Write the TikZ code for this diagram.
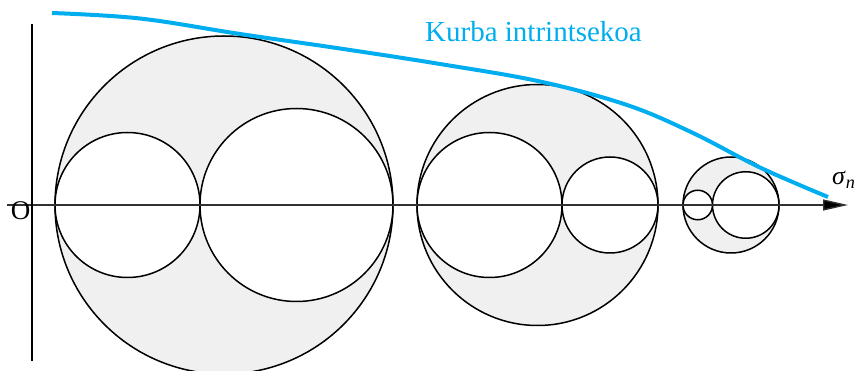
\documentclass[tikz,border=0pt]{standalone}
\usepackage{fontspec}
\setmainfont{Liberation Serif}
\usetikzlibrary{arrows.meta}
\definecolor{curveblue}{RGB}{0,174,239}
\definecolor{mohrfill}{RGB}{240,240,240}
\definecolor{axisgray}{RGB}{50,50,50}
\tikzset{
  outercirc/.style={draw=black, line width=1.5pt, fill=mohrfill},
  innercirc/.style={draw=black, line width=1.5pt, fill=white},
  axisline/.style={draw=axisgray, line width=1.4pt},
  lbl/.style={inner sep=0pt, font=\fontsize{27pt}{29pt}\selectfont}
}
\begin{document}
\begin{tikzpicture}[x=1pt,y=-1pt]
\useasboundingbox (0,0) rectangle (857,371);
% Mohr circles group 1
\path[outercirc] (224,205) circle[radius=169pt];
\path[innercirc] (127.5,205) circle[radius=72.5pt];
\path[innercirc] (296.5,205) circle[radius=96.5pt];
% group 2
\path[outercirc] (537.5,205) circle[radius=120.5pt];
\path[innercirc] (489.5,205) circle[radius=72.5pt];
\path[innercirc] (610,205) circle[radius=48pt];
% group 3
\path[outercirc] (731,205) circle[radius=48pt];
\path[innercirc] (697.75,205) circle[radius=14.75pt];
\path[innercirc] (745.75,205) circle[radius=33.25pt];
% axes
\coordinate (xstart) at (7,205);
\coordinate (xend) at (848,205);
\coordinate (ytop) at (32,24);
\coordinate (ybot) at (32,361);
\draw[axisline, -{Triangle[length=25pt,width=11pt,fill=black]}] (xstart) -- (xend);
\draw[black, line width=1.4pt] (ytop) -- (ybot);
% intrinsic curve
\draw[curveblue, line width=4pt] plot[smooth, tension=0.6] coordinates {
  (52,13) (140,18.5) (240,34) (340,48.5) (440,64) (540,81.5)
  (627,105) (693,133) (760,167.5) (828,197)};
% labels
\node[lbl, font=\fontsize{29pt}{31pt}\selectfont, text=curveblue, anchor=base west] (klabel) at (425,42) {Kurba intrintsekoa};
\node[lbl, anchor=center] (olabel) at (20.5,211) {O};
\node[lbl, font=\fontsize{26pt}{28pt}\selectfont, anchor=base west] (slabel) at (832,185) {\textit{σ}\textsubscript{\textit{n}}};
\end{tikzpicture}
\end{document}
